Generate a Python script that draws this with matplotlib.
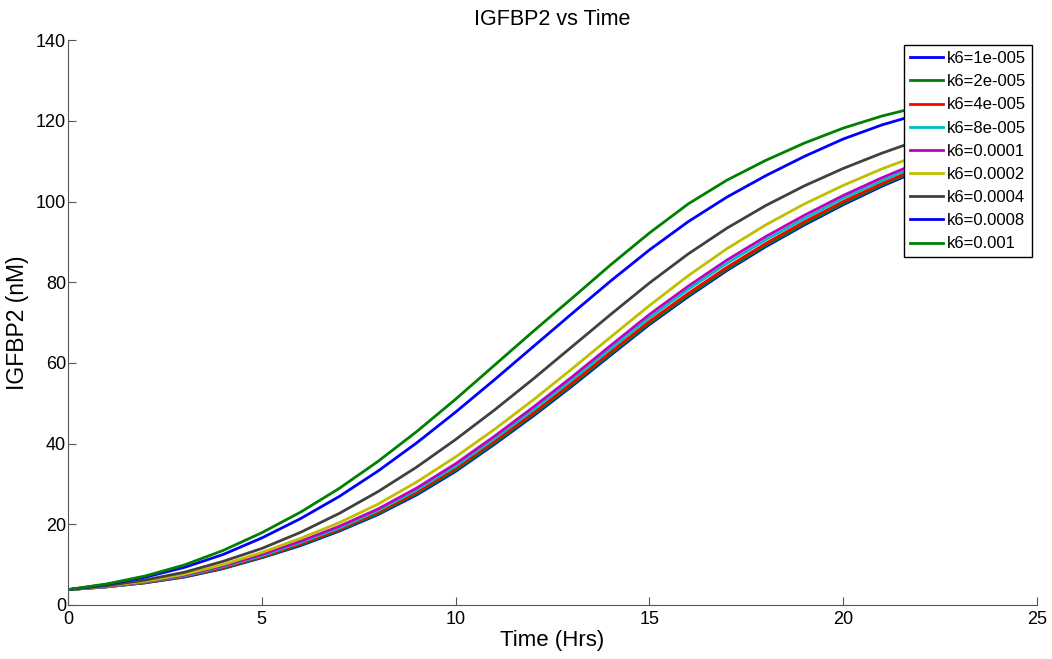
import matplotlib
matplotlib.use('Agg')
import matplotlib.pyplot as plt

plt.rcParams['font.family'] = ['Liberation Sans', 'DejaVu Sans']

# time points (hours)
time_hr = list(range(25))

# IGFBP2 (nM), one list per k6 value
k6_1e5 = [3.8, 4.5, 5.5, 6.9, 9.0, 11.7, 14.7, 18.3, 22.4, 27.3, 33.1, 39.8, 46.8,
          54.2, 61.9, 69.5, 76.4, 82.9, 88.8, 94.2, 99.2, 103.8, 107.9, 111.6, 114.9]
k6_2e5 = [3.8, 4.5, 5.5, 7.0, 9.1, 11.8, 14.9, 18.5, 22.6, 27.6, 33.4, 40.1, 47.1,
          54.5, 62.2, 69.8, 76.7, 83.2, 89.1, 94.5, 99.5, 104.1, 108.2, 111.9, 115.2]
k6_4e5 = [3.8, 4.5, 5.6, 7.1, 9.3, 12.0, 15.2, 18.8, 23.0, 28.0, 33.9, 40.6, 47.6,
          55.0, 62.7, 70.3, 77.2, 83.7, 89.6, 95.0, 100.0, 104.5, 108.6, 112.3, 115.6]
k6_8e5 = [3.8, 4.5, 5.7, 7.2, 9.5, 12.2, 15.5, 19.1, 23.4, 28.5, 34.4, 41.2, 48.3,
          55.8, 63.5, 71.2, 78.2, 84.7, 90.5, 95.8, 100.8, 105.2, 109.2, 112.9, 116.1]
k6_1e4 = [3.8, 4.6, 5.8, 7.4, 9.7, 12.5, 15.8, 19.5, 23.8, 29.0, 35.0, 41.8, 49.0,
          56.5, 64.3, 72.0, 79.0, 85.5, 91.3, 96.6, 101.5, 105.9, 109.9, 113.5, 116.7]
k6_2e4 = [3.8, 4.7, 5.9, 7.6, 10.0, 13.0, 16.5, 20.4, 25.0, 30.5, 36.7, 43.5, 50.8,
          58.5, 66.4, 74.2, 81.6, 88.3, 94.2, 99.4, 104.0, 108.1, 111.7, 114.9, 117.7]
k6_4e4 = [3.8, 4.8, 6.2, 8.1, 10.8, 14.0, 18.0, 22.7, 28.1, 34.2, 41.0, 48.3, 56.0,
          64.0, 72.0, 79.8, 87.0, 93.4, 99.0, 103.9, 108.2, 112.0, 115.4, 118.4, 121.0]
k6_8e4 = [3.8, 5.1, 6.9, 9.3, 12.5, 16.6, 21.4, 26.9, 33.2, 40.2, 47.8, 55.8, 64.0,
          72.2, 80.3, 88.0, 95.0, 101.1, 106.4, 111.2, 115.5, 119.0, 121.8, 124.0, 125.8]
k6_1e3 = [3.8, 5.2, 7.2, 9.9, 13.5, 17.9, 23.0, 28.9, 35.6, 43.0, 51.0, 59.4, 67.8,
          76.0, 84.3, 92.2, 99.4, 105.3, 110.2, 114.5, 118.2, 121.2, 123.6, 125.5, 127.0]

series = [k6_1e5, k6_2e5, k6_4e5, k6_8e5, k6_1e4, k6_2e4, k6_4e4, k6_8e4, k6_1e3]
labels = ['k6=1e-005', 'k6=2e-005', 'k6=4e-005', 'k6=8e-005', 'k6=0.0001',
          'k6=0.0002', 'k6=0.0004', 'k6=0.0008', 'k6=0.001']
colours = ['#0000ff', '#008000', '#ff0000', '#00bfbf', '#bf00bf',
           '#bfbf00', '#404040', '#0000ff', '#008000']

fig = plt.figure(figsize=(10.52, 6.59), dpi=100)
ax = fig.add_axes([0.0646, 0.082, 0.9211, 0.857])

for ys, lab, col in zip(series, labels, colours):
    ax.plot(time_hr, ys, color=col, linewidth=2, label=lab)

ax.set_xlim(0, 25)
ax.set_ylim(0, 140)
ax.set_xticks([0, 5, 10, 15, 20, 25])
ax.set_yticks([0, 20, 40, 60, 80, 100, 120, 140])

# MATLAB look: no box, inward ticks
for side in ['top', 'right']:
    ax.spines[side].set_visible(False)
for side in ['left', 'bottom']:
    ax.spines[side].set_color('#555555')
ax.tick_params(direction='in', length=6, color='#555555', labelsize=13,
               labelcolor='black')
ax.tick_params(axis='y', pad=1.5)
ax.tick_params(axis='x', pad=4)

ax.set_title('IGFBP2 vs Time', fontsize=15.5, pad=11)
ax.set_xlabel('Time (Hrs)', fontsize=16, labelpad=2)
ax.set_ylabel('IGFBP2 (nM)', fontsize=16.5, labelpad=5)

leg = ax.legend(loc='upper right', fontsize=12, frameon=True, fancybox=False,
                framealpha=1, edgecolor='black', handlelength=1.95,
                handletextpad=0.25, labelspacing=0.49, borderpad=0.35,
                borderaxespad=0.3)
leg.get_frame().set_linewidth(1.0)

plt.savefig('out.png', dpi=100)
plt.close()
